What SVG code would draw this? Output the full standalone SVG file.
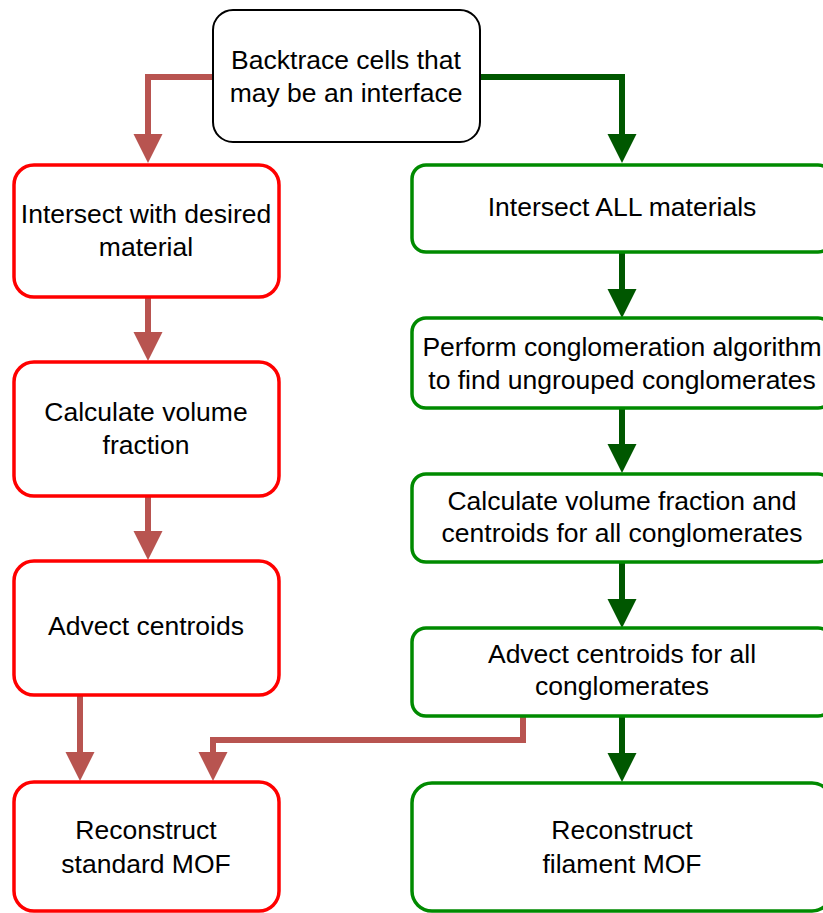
<svg xmlns="http://www.w3.org/2000/svg" width="823" height="913" viewBox="0 0 823 913">
<style>
text{font-family:"Liberation Sans",Arial,sans-serif;font-size:26.5px;fill:#000;text-anchor:middle}
.r{fill:#fff;stroke:#ff0000;stroke-width:3.5}
.g{fill:#fff;stroke:#008a00;stroke-width:3.5}
.k{fill:#fff;stroke:#000;stroke-width:2}
.cr{fill:none;stroke:#b85450;stroke-width:6}
.cg{fill:none;stroke:#005700;stroke-width:6}
</style>
<defs>
<marker id="ar" markerUnits="userSpaceOnUse" markerWidth="30" markerHeight="30" refX="0" refY="14.5" orient="auto" viewBox="0 0 30 30"><path d="M0,0 L29,14.5 L0,29 z" fill="#b85450"/></marker>
<marker id="ag" markerUnits="userSpaceOnUse" markerWidth="30" markerHeight="30" refX="0" refY="14.5" orient="auto" viewBox="0 0 30 30"><path d="M0,0 L29,14.5 L0,29 z" fill="#005700"/></marker>
</defs>
<g id="connectors">
<path class="cr" d="M213,77 H148 V134" marker-end="url(#ar)"/>
<path class="cg" d="M480,77 H622 V134" marker-end="url(#ag)"/>
<path class="cr" d="M148,297 V332" marker-end="url(#ar)"/>
<path class="cr" d="M148,496 V531" marker-end="url(#ar)"/>
<path class="cr" d="M80,695 V752" marker-end="url(#ar)"/>
<path class="cr" d="M523,717 V740 H213 V752" marker-end="url(#ar)"/>
<path class="cg" d="M622,252 V289" marker-end="url(#ag)"/>
<path class="cg" d="M622,408 V444" marker-end="url(#ag)"/>
<path class="cg" d="M622,562 V599" marker-end="url(#ag)"/>
<path class="cg" d="M622,717 V753" marker-end="url(#ag)"/>
</g>
<g id="n0"><rect class="k" x="213" y="10" width="267" height="132" rx="20"/><text x="346" y="69">Backtrace cells that</text><text x="346" y="102">may be an interface</text></g>
<g id="n1"><rect class="r" x="14" y="165" width="265" height="132" rx="20"/><text x="146" y="223">Intersect with desired</text><text x="146" y="256">material</text></g>
<g id="n2"><rect class="r" x="14" y="362" width="265" height="134" rx="20"/><text x="146" y="421">Calculate volume</text><text x="146" y="454">fraction</text></g>
<g id="n3"><rect class="r" x="14" y="561" width="265" height="134" rx="20"/><text x="146" y="635">Advect centroids</text></g>
<g id="n4"><rect class="r" x="14" y="782" width="265" height="129" rx="20"/><text x="146" y="839">Reconstruct</text><text x="146" y="873">standard MOF</text></g>
<g id="n5"><rect class="g" x="412" y="165" width="420" height="87" rx="14"/><text x="622" y="216">Intersect ALL materials</text></g>
<g id="n6"><rect class="g" x="412" y="318" width="420" height="90" rx="14"/><text x="622" y="356">Perform conglomeration algorithm</text><text x="622" y="389">to find ungrouped conglomerates</text></g>
<g id="n7"><rect class="g" x="412" y="474" width="420" height="88" rx="14"/><text x="622" y="510">Calculate volume fraction and</text><text x="622" y="542">centroids for all conglomerates</text></g>
<g id="n8"><rect class="g" x="412" y="628" width="420" height="88" rx="14"/><text x="622" y="663">Advect centroids for all</text><text x="622" y="695">conglomerates</text></g>
<g id="n9"><rect class="g" x="412" y="783" width="420" height="128" rx="20"/><text x="622" y="839">Reconstruct</text><text x="622" y="873">filament MOF</text></g>
</svg>
